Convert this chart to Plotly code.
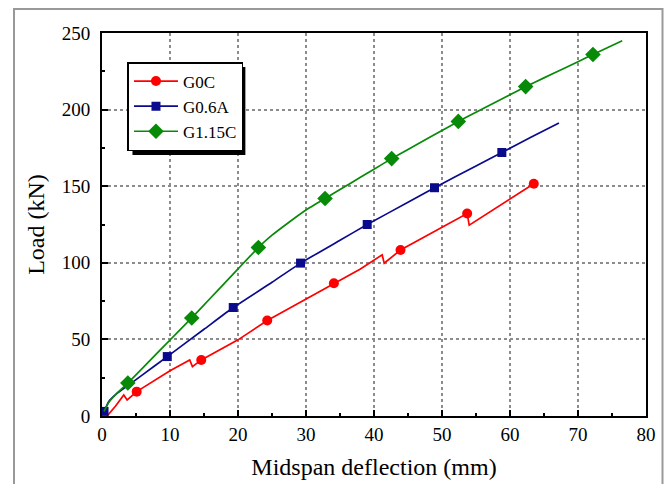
import plotly.graph_objects as go

# ---- data ----
g0c_x = [0.75, 2.0, 3.2, 3.7, 5.1, 7.0, 10.0, 12.9, 13.3, 14.6, 20.0, 24.3, 30.0, 34.1, 38.0, 41.2, 41.5, 43.9, 50.0, 53.7, 54.0, 58.0, 63.5]
g0c_y = [0.0, 6.5, 13.7, 10.5, 15.9, 21.0, 29.5, 36.6, 32.2, 36.6, 49.7, 62.3, 76.5, 86.7, 96.0, 105.2, 99.7, 108.4, 123.0, 132.2, 124.6, 136.0, 151.6]
g0c_mx = [5.1, 14.6, 24.3, 34.1, 43.9, 53.7, 63.5]
g0c_my = [15.9, 36.6, 62.3, 86.7, 108.4, 132.2, 151.6]

g06a_x = [0.3, 1.0, 2.0, 4.0, 6.0, 9.6, 15.0, 19.3, 25.0, 29.2, 35.0, 39.0, 45.0, 48.9, 55.0, 58.8, 63.0, 67.2]
g06a_y = [3.0, 9.5, 14.0, 20.5, 27.0, 38.8, 56.6, 70.8, 87.3, 99.8, 114.7, 125.0, 139.5, 149.0, 163.2, 172.0, 181.8, 191.2]
g06a_mx = [0.3, 9.6, 19.3, 29.2, 39.0, 48.9, 58.8]
g06a_my = [3.0, 38.8, 70.8, 99.8, 125.0, 149.0, 172.0]

g115c_x = [0.3, 1.0, 2.0, 3.8, 6.0, 8.0, 10.0, 13.2, 16.0, 18.0, 20.0, 23.0, 25.0, 27.5, 30.0, 32.8, 35.0, 38.0, 40.0, 42.6, 45.0, 48.0, 50.0, 52.4, 55.0, 58.0, 60.0, 62.3, 65.0, 68.0, 70.0, 72.2, 76.5]
g115c_y = [3.0, 9.0, 14.0, 21.5, 31.4, 40.5, 49.6, 64.0, 77.2, 86.6, 96.0, 110.0, 118.0, 126.5, 134.5, 142.0, 147.8, 155.8, 161.1, 168.0, 174.0, 181.4, 186.3, 192.3, 198.3, 205.2, 209.7, 215.0, 220.7, 227.0, 231.3, 236.0, 245.0]
g115c_mx = [3.8, 13.2, 23.0, 32.8, 42.6, 52.4, 62.3, 72.2]
g115c_my = [21.5, 64.0, 110.0, 142.0, 168.0, 192.3, 215.0, 236.0]

names = ["G0C", "G0.6A", "G1.15C"]
colors = ["#ff0000", "#0a0a8c", "#078a07"]
symbols = ["circle", "square", "diamond"]
msizes = [10, 9, 12]
smooth = [False, True, True]

x_ticks = [0, 10, 20, 30, 40, 50, 60, 70, 80]
y_ticks = [0, 50, 100, 150, 200, 250]

# ---- figure ----
W, H = 665, 484
L, R, T, B = 101.5, 19, 33, 68
pw, ph = W - L - R, H - T - B

def px(x):
    return (x - L) / pw

def py(y):
    return (H - B - y) / ph

fig = go.Figure()
series = [(g0c_x, g0c_y, g0c_mx, g0c_my), (g06a_x, g06a_y, g06a_mx, g06a_my),
          (g115c_x, g115c_y, g115c_mx, g115c_my)]
for (lx, ly, mx, my), n, c, s, ms, sm in zip(series, names, colors, symbols, msizes, smooth):
    line = dict(color=c, width=1.7)
    if sm:
        line.update(shape="spline", smoothing=0.4)
    fig.add_trace(go.Scatter(x=lx, y=ly, mode="lines", line=line,
                             showlegend=False, hoverinfo="skip"))
    fig.add_trace(go.Scatter(x=mx, y=my, mode="markers",
                             marker=dict(color=c, symbol=s, size=ms, line=dict(width=0)),
                             showlegend=False))
    fig.add_trace(go.Scatter(x=[None], y=[None], mode="lines+markers", name=n,
                             line=dict(color=c, width=1.7),
                             marker=dict(color=c, symbol=s, size=ms, line=dict(width=0))))

font_family = "Liberation Serif, Times New Roman, serif"
axis_common = dict(
    showline=True, linecolor="black", linewidth=2, mirror=True,
    ticks="inside", ticklen=6, tickwidth=2, tickcolor="black",
    showgrid=True, gridcolor="#8c8c8c", griddash="dot", gridwidth=1.5,
    zeroline=False, automargin=False,
    tickfont=dict(family=font_family, size=19, color="black"),
)
fig.update_xaxes(range=[0, 80], tickvals=x_ticks, ticktext=[str(v) for v in x_ticks],
                 minor=dict(ticks="inside", ticklen=3, tickwidth=2, tickcolor="black", dtick=5, showgrid=False),
                 title=dict(text="Midspan deflection (mm)", font=dict(family=font_family, size=24, color="black"), standoff=14),
                 **axis_common)
fig.update_yaxes(range=[0, 250], tickvals=y_ticks, ticktext=[str(v) for v in y_ticks],
                 ticklabelstandoff=6,
                 minor=dict(ticks="inside", ticklen=3, tickwidth=2, tickcolor="black", dtick=25, showgrid=False),
                 title=dict(text="Load (kN)", font=dict(family=font_family, size=24, color="black"), standoff=10),
                 **axis_common)

# legend with a drop shadow
lx0, ly0, lx1, ly1 = 127, 62, 240, 150
sh = 5
fig.add_shape(type="rect", xref="paper", yref="paper", layer="above",
              x0=px(lx0 + sh), x1=px(lx1 + sh), y0=py(ly1 + sh), y1=py(ly0 + sh),
              fillcolor="black", line=dict(width=0))
# outer frame drawn in pixel units anchored at the paper origin
fig.add_shape(type="rect", xref="paper", yref="paper", layer="above",
              xsizemode="pixel", ysizemode="pixel", xanchor=0, yanchor=1,
              x0=13.5 - L, x1=662 - L, y0=T - 9, y1=-(H + 10 - T),
              fillcolor="rgba(0,0,0,0)", line=dict(color="#999999", width=2))

fig.update_layout(
    width=W, height=H,
    margin=dict(l=L, r=R, t=T, b=B, autoexpand=False),
    paper_bgcolor="white", plot_bgcolor="white",
    legend=dict(x=px(lx0), y=py(ly0), xanchor="left", yanchor="top",
                bgcolor="white", bordercolor="black", borderwidth=1.5,
                font=dict(family=font_family, size=17, color="black"),
                itemwidth=44, tracegroupgap=0),
    font=dict(family=font_family),
)

fig.write_html("out.html", config={"displayModeBar": False},
               post_script="document.body.style.margin='0';")
